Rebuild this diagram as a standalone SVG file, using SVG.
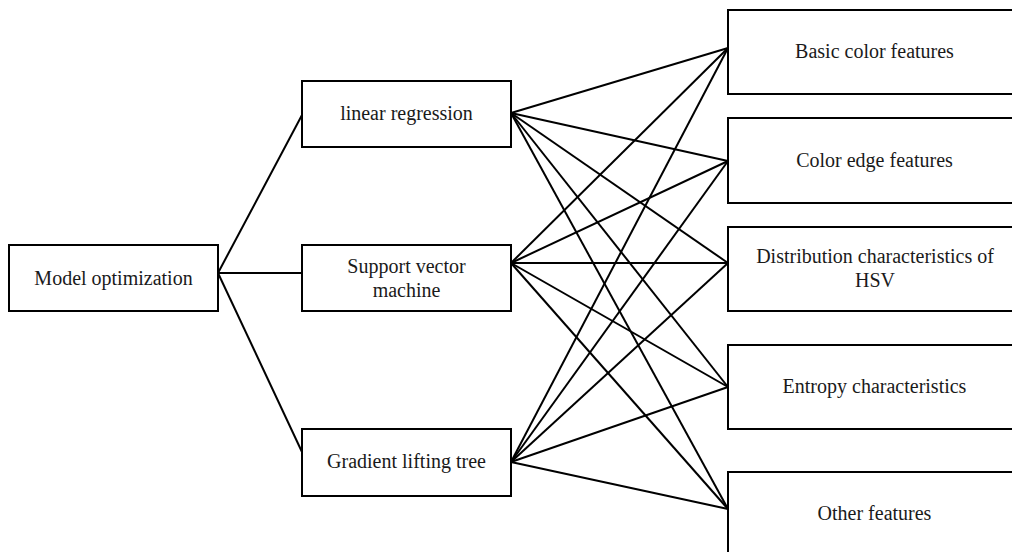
<svg xmlns="http://www.w3.org/2000/svg" width="1012" height="552" viewBox="0 0 1012 552">
<style>
.box{fill:#fff;stroke:#000;stroke-width:2}
.t{font-family:"Liberation Serif","Times New Roman",serif;font-size:20px;fill:#1a1a1a;text-anchor:middle}
.c line{stroke:#000;stroke-width:2}
</style>
<rect width="1012" height="552" fill="#fff"/>
<g class="c" id="connectors">
<line x1="218" y1="273" x2="302" y2="115"/>
<line x1="218" y1="273" x2="302" y2="273"/>
<line x1="218" y1="273" x2="302" y2="452"/>
<line x1="511" y1="113" x2="728" y2="48"/>
<line x1="511" y1="113" x2="728" y2="161"/>
<line x1="511" y1="113" x2="728" y2="263"/>
<line x1="511" y1="113" x2="728" y2="387"/>
<line x1="511" y1="113" x2="728" y2="509"/>
<line x1="511" y1="263" x2="728" y2="48"/>
<line x1="511" y1="263" x2="728" y2="161"/>
<line x1="511" y1="263" x2="728" y2="263"/>
<line x1="511" y1="263" x2="728" y2="387"/>
<line x1="511" y1="263" x2="728" y2="509"/>
<line x1="511" y1="462" x2="728" y2="48"/>
<line x1="511" y1="462" x2="728" y2="161"/>
<line x1="511" y1="462" x2="728" y2="263"/>
<line x1="511" y1="462" x2="728" y2="387"/>
<line x1="511" y1="462" x2="728" y2="509"/>
</g>
<g id="model-optimization"><rect class="box" x="9" y="245" width="209" height="66"/><text class="t" x="113.5" y="285">Model optimization</text></g>
<g id="linear-regression"><rect class="box" x="302" y="81" width="209" height="66"/><text class="t" x="406.5" y="120">linear regression</text></g>
<g id="support-vector-machine"><rect class="box" x="302" y="245" width="209" height="66"/><text class="t" x="406.5" y="273">Support vector</text><text class="t" x="406.5" y="297">machine</text></g>
<g id="gradient-lifting-tree"><rect class="box" x="302" y="429" width="209" height="67"/><text class="t" x="406.5" y="468">Gradient lifting tree</text></g>
<g id="basic-color-features"><rect class="box" x="728" y="10" width="293" height="84"/><text class="t" x="874.5" y="58">Basic color features</text></g>
<g id="color-edge-features"><rect class="box" x="728" y="118" width="293" height="85"/><text class="t" x="874.5" y="167">Color edge features</text></g>
<g id="distribution-hsv"><rect class="box" x="728" y="227" width="293" height="84"/><text class="t" x="875" y="263">Distribution characteristics of</text><text class="t" x="875" y="287">HSV</text></g>
<g id="entropy-characteristics"><rect class="box" x="728" y="345" width="293" height="84"/><text class="t" x="874.5" y="393">Entropy characteristics</text></g>
<g id="other-features"><rect class="box" x="728" y="472" width="293" height="84"/><text class="t" x="874.5" y="520">Other features</text></g>
</svg>
